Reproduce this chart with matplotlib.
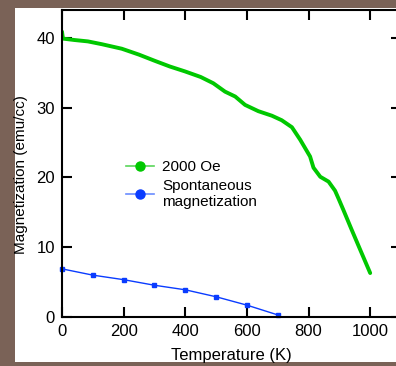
"""
Magnetization vs temperature: 2000 Oe field curve and spontaneous magnetization.
"""

import matplotlib
matplotlib.use("Agg")
import matplotlib.pyplot as plt
from matplotlib.lines import Line2D
from matplotlib.patches import Rectangle

plt.rcParams["font.family"] = ["Liberation Sans", "DejaVu Sans"]

temp_field = [0, 3, 40, 84, 129, 194, 250, 302, 350, 399, 450, 491, 529, 562,
              594, 637, 681, 713, 746, 773, 789, 805, 816, 838, 865, 886,
              897, 913, 940, 968, 1000]
mag_field = [40.9, 39.9, 39.7, 39.5, 39.1, 38.45, 37.6, 36.7, 35.9, 35.2,
             34.4, 33.5, 32.3, 31.6, 30.4, 29.5, 28.85, 28.2, 27.2, 25.4,
             24.2, 23.0, 21.4, 20.1, 19.4, 18.1, 17.0, 15.35, 12.5, 9.6, 6.3]

# spontaneous magnetization
temp_spont = [0, 100, 200, 300, 400, 500, 600, 700]
mag_spont = [6.9, 6.0, 5.35, 4.55, 3.9, 2.9, 1.7, 0.3]

GREEN = "#00c800"
BLUE = "#0a3cff"

W, H = 396, 366
fig = plt.figure(figsize=(W / 100, H / 100), dpi=100)
fig.patch.set_facecolor("#7a6257")
fig.add_artist(Rectangle((15 / W, (H - 362) / H), (W - 15) / W, 354 / H,
                         transform=fig.transFigure, facecolor="white",
                         edgecolor="none", zorder=-10))

ax = fig.add_axes([62 / W, (H - 317) / H, 339 / W, 307 / H])
ax.set_facecolor("white")

ax.plot(temp_field, mag_field, "-", color=GREEN, linewidth=2.8,
        solid_capstyle="round", solid_joinstyle="round")
ax.plot(temp_spont, mag_spont, "s-", color=BLUE, linewidth=1.0,
        markersize=3, clip_on=False)

ax.set_xlim(0, 1100)
ax.set_ylim(0, 44)
ax.set_xticks([0, 200, 400, 600, 800, 1000])
ax.set_yticks([0, 10, 20, 30, 40])
ax.tick_params(direction="in", length=7, width=1.5, top=True, right=True,
               labelsize=12, pad=5, colors="black")
for s in ax.spines.values():
    s.set_linewidth(1.5)

ax.set_xlabel("Temperature (K)", fontsize=12)
ax.set_ylabel("Magnetization (emu/cc)", fontsize=11)
ax.xaxis.set_label_coords(0.5, -0.1)
ax.yaxis.set_label_coords(-0.1, 0.463)

handles = [
    Line2D([], [], color="#5ad65a", linewidth=1.2, marker="o",
           markersize=6.5, markerfacecolor=GREEN, markeredgecolor=GREEN),
    Line2D([], [], color="#6a8cff", linewidth=1.2, marker="o",
           markersize=6.5, markerfacecolor=BLUE, markeredgecolor=BLUE),
]
fig.legend(handles, ["2000 Oe", "Spontaneous\nmagnetization"],
           loc="upper left", bbox_to_anchor=(126 / W, (H - 160) / H),
           frameon=False, fontsize=11, handlelength=1.8, handletextpad=0.55,
           borderpad=0, borderaxespad=0, labelspacing=0.3)

fig.savefig("out.png", dpi=100, facecolor=fig.get_facecolor())
